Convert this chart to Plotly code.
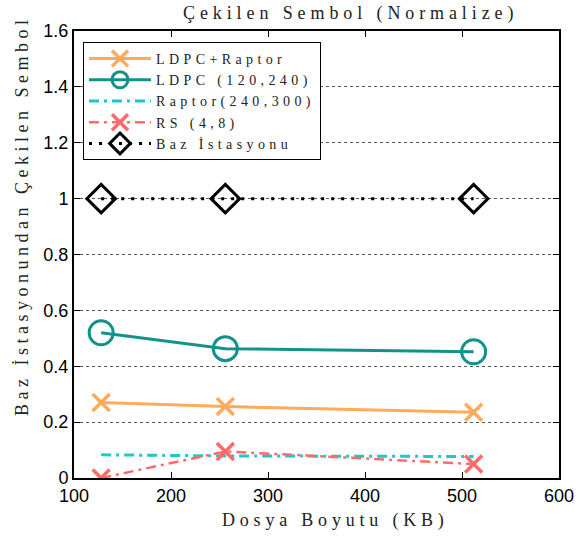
import plotly.graph_objects as go

# Data
file_sizes = [128, 256, 512]
ldpc_raptor = [0.27, 0.256, 0.235]
ldpc = [0.52, 0.463, 0.452]
raptor = [0.083, 0.079, 0.077]
rs = [0.0, 0.095, 0.05]
baz = [1.0, 1.0, 1.0]

names = ["LDPC+Raptor", "LDPC (120,240)", "Raptor(240,300)", "RS (4,8)", "Baz İstasyonu"]

SERIF = "Liberation Serif, DejaVu Serif, serif"
SANS = "Liberation Sans, Arial, sans-serif"

# plot area in window pixels (body margin removed by post_script)
L, R, T, B = 74, 559, 31, 478
W, H = 576, 540
LEG_SP = 4.4


def spaced(t, px):
    return f'<span style="letter-spacing:{px}px">{t}</span>'


def px(xp, yp):
    return (xp - L) / (R - L), (B - yp) / (B - T)


fig = go.Figure()

fig.add_trace(go.Scatter(
    x=file_sizes, y=ldpc_raptor, name=spaced(names[0], LEG_SP), mode="lines+markers",
    line=dict(color="#ffaa5c", width=3),
    marker=dict(symbol="x-thin", size=17, line=dict(color="#ffaa5c", width=3.5))))
fig.add_trace(go.Scatter(
    x=file_sizes, y=ldpc, name=spaced(names[1], LEG_SP), mode="lines+markers",
    line=dict(color="#13928c", width=3),
    marker=dict(symbol="circle-open", size=24, color="#13928c", line=dict(color="#13928c", width=3))))
fig.add_trace(go.Scatter(
    x=file_sizes, y=raptor, name=spaced(names[2], LEG_SP), mode="lines",
    line=dict(color="#1cc8c8", width=3, dash="10px,5px,3px,5px")))
fig.add_trace(go.Scatter(
    x=file_sizes, y=rs, name=spaced(names[3], LEG_SP), mode="lines+markers",
    line=dict(color="#ff6b6b", width=2.5, dash="10px,5px,3px,5px"),
    marker=dict(symbol="x-thin", size=17, line=dict(color="#ff6b6b", width=3.5))))
fig.add_trace(go.Scatter(
    x=file_sizes, y=baz, name=spaced(names[4], LEG_SP), mode="lines+markers",
    line=dict(color="black", width=3, dash="3px,7px"),
    marker=dict(symbol="diamond-open", size=22, color="black", line=dict(color="black", width=3))))

lx, ly = px(83, 42)
fig.update_layout(
    template="none",
    width=W, height=H,
    margin=dict(l=L, r=W - R, t=T, b=H - B, autoexpand=False),
    plot_bgcolor="white", paper_bgcolor="white",
    showlegend=True,
    legend=dict(x=lx, y=ly, xanchor="left", yanchor="top",
                bgcolor="white", bordercolor="black", borderwidth=1,
                font=dict(family=SERIF, size=14, color="#222"),
                itemwidth=62, tracegroupgap=0),
    font=dict(family=SANS, size=18, color="black"),
)

fig.update_xaxes(range=[100, 600], dtick=100, tick0=100, automargin=False,
                 showline=True, linecolor="black", linewidth=2, mirror="ticks",
                 ticks="inside", ticklen=6, tickcolor="black", tickwidth=1,
                 showgrid=False, zeroline=False,
                 tickfont=dict(family=SANS, size=18, color="black"))
fig.update_yaxes(range=[0, 1.6], dtick=0.2, tick0=0, automargin=False,
                 showline=True, linecolor="black", linewidth=2, mirror="ticks",
                 ticks="inside", ticklen=6, tickcolor="black", tickwidth=1,
                 showgrid=True, gridcolor="#555", gridwidth=1, griddash="dot",
                 zeroline=False,
                 tickfont=dict(family=SANS, size=18, color="black"))

tx, ty = px(350, 13)
fig.add_annotation(text=spaced("Çekilen Sembol (Normalize)", 4.9), xref="paper", yref="paper",
                   x=tx, y=ty, xanchor="center", yanchor="middle", showarrow=False,
                   font=dict(family=SERIF, size=18, color="#222"))
xx, xy = px(335, 520)
fig.add_annotation(text=spaced("Dosya Boyutu (KB)", 4.8), xref="paper", yref="paper",
                   x=xx, y=xy, xanchor="center", yanchor="middle", showarrow=False,
                   font=dict(family=SERIF, size=18, color="#222"))
yx, yy = px(22, 216)
fig.add_annotation(text=spaced("Baz İstasyonundan Çekilen Sembol", 4.5), xref="paper", yref="paper",
                   x=yx, y=yy, xanchor="center", yanchor="middle", showarrow=False, textangle=-90,
                   font=dict(family=SERIF, size=18, color="#222"))

fig.write_html("out.html", config={"displayModeBar": False},
               post_script="document.body.style.margin='0';document.body.style.overflow='hidden';")
